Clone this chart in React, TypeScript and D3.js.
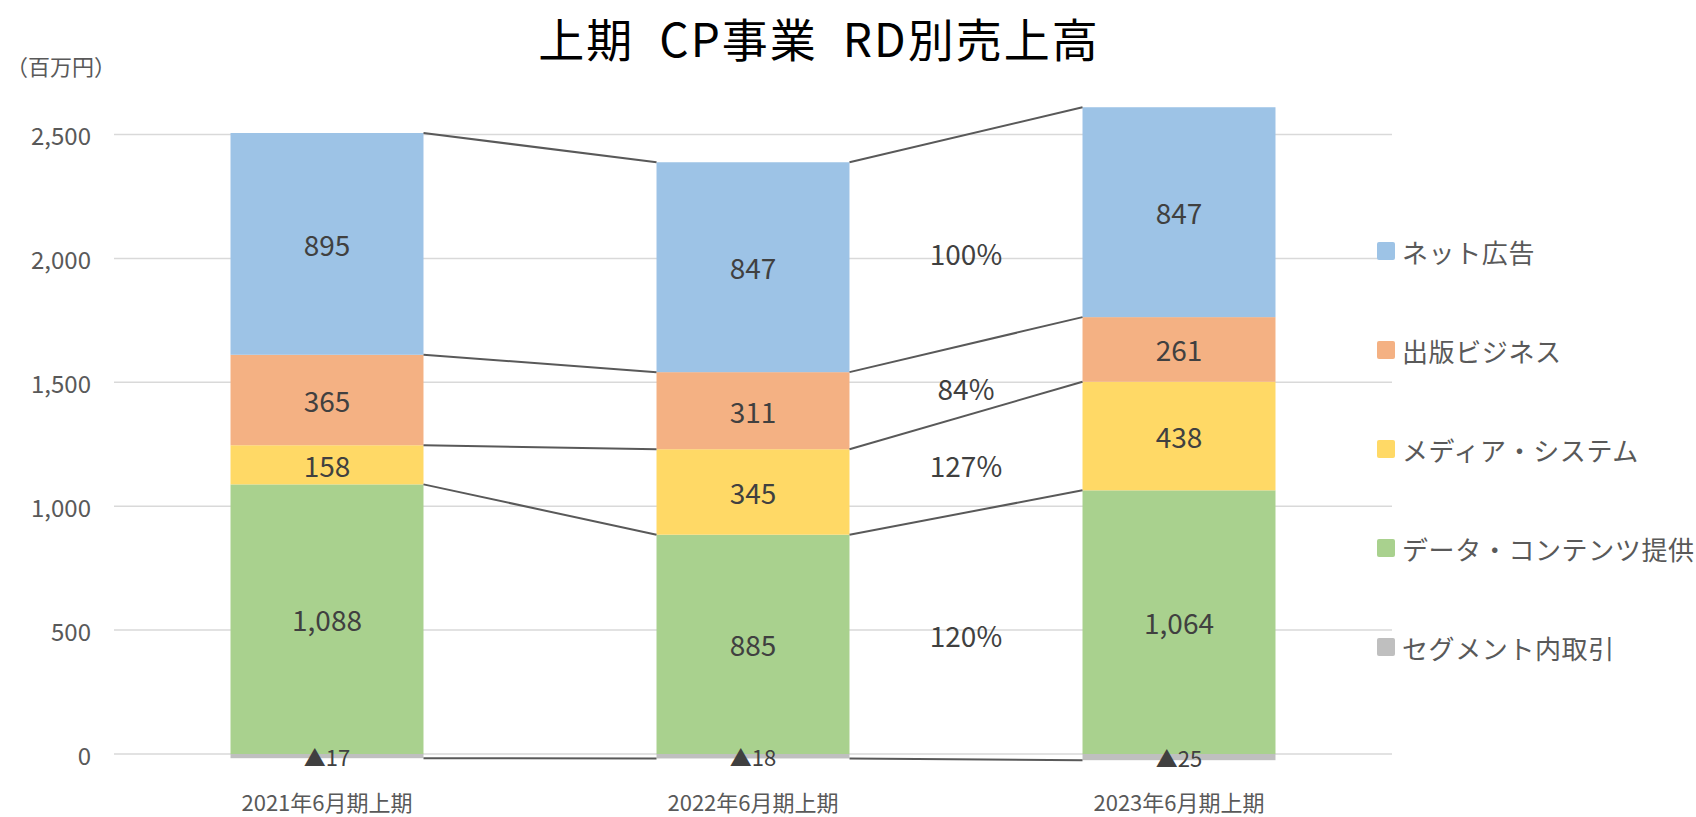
import React from 'react';
import * as d3 from 'd3';

const periods = ['2021年6月期上期', '2022年6月期上期', '2023年6月期上期'];
const seriesKeys = ['segment', 'dataContent', 'media', 'publishing', 'netAd'];
const seriesNames = ['セグメント内取引', 'データ・コンテンツ提供', 'メディア・システム', '出版ビジネス', 'ネット広告'];
const seriesColors = ['#BFBFBF', '#A9D18E', '#FFD966', '#F4B183', '#9DC3E6'];

const netAd = [895, 847, 847];
const publishing = [365, 311, 261];
const media = [158, 345, 438];
const dataContent = [1088, 885, 1064];
const segment = [-17, -18, -25];

const yTicks = [0, 500, 1000, 1500, 2000, 2500];

// 前年比ラベル（2022→2023）
const growthLabels = ['100%', '84%', '127%', '120%'];
const growthAnchors = [2020, 1475, 1168, 481];

const W = 1696;
const H = 817;
const margin = { left: 114, right: 304, top: 134.5, bottom: 63 };

const App = () => {
  const rows = periods.map((p, i) => ({
    period: p,
    segment: segment[i],
    dataContent: dataContent[i],
    media: media[i],
    publishing: publishing[i],
    netAd: netAd[i],
  }));

  const stacked = d3
    .stack()
    .keys(seriesKeys)
    .offset(d3.stackOffsetDiverging)(rows as any);

  const x = d3
    .scaleBand()
    .domain(periods)
    .range([margin.left, W - margin.right])
    .paddingInner(0.547)
    .paddingOuter(0.547 / 2);

  const y = d3.scaleLinear().domain([0, 2500]).range([H - margin.bottom, margin.top]);
  const fmt = d3.format(',');
  const bw = x.bandwidth();

  const font = '"Noto Sans CJK JP", "Noto Sans", sans-serif';

  // 区分線：各系列の上端（マイナス系列は下端）を隣の棒と結ぶ
  const connectors: { x1: number; y1: number; x2: number; y2: number; k: string }[] = [];
  stacked.forEach((s) => {
    for (let i = 0; i < s.length - 1; i++) {
      const neg = s.key === 'segment';
      const a = neg ? s[i][0] : s[i][1];
      const b = neg ? s[i + 1][0] : s[i + 1][1];
      connectors.push({
        x1: x(periods[i])! + bw,
        y1: y(a),
        x2: x(periods[i + 1])!,
        y2: y(b),
        k: s.key + i,
      });
    }
  });

  const gapX = (x(periods[1])! + bw + x(periods[2])!) / 2;
  const legendOrder = [4, 3, 2, 1, 0];

  return (
    <svg
      width={W}
      height={H}
      style={{ position: 'absolute', left: 0, top: 0, background: '#fff' }}
      fontFamily={font}
    >
      <text x={819} y={57} textAnchor="middle" fontSize={46} letterSpacing={2} fill="#000">
        {'上期\u2002CP事業\u2002RD別売上高'}
      </text>
      <text x={6} y={75} fontSize={22} fill="#595959">
        （百万円）
      </text>

      {yTicks.map((t) => (
        <g key={t}>
          <line x1={margin.left} x2={W - margin.right} y1={y(t)} y2={y(t)} stroke="#D9D9D9" strokeWidth={1.5} />
          <text x={91} y={y(t)} textAnchor="end" dominantBaseline="central" fontSize={24} fill="#595959">
            {fmt(t)}
          </text>
        </g>
      ))}

      {stacked.map((s, si) => (
        <g key={s.key} fill={seriesColors[si]}>
          {s.map((d, i) => (
            <rect
              key={i}
              x={x(periods[i])}
              width={bw}
              y={y(Math.max(d[0], d[1]))}
              height={Math.abs(y(d[0]) - y(d[1]))}
            />
          ))}
        </g>
      ))}

      {connectors.map((c) => (
        <line key={c.k} x1={c.x1} y1={c.y1} x2={c.x2} y2={c.y2} stroke="#595959" strokeWidth={2} />
      ))}

      {stacked.map((s) =>
        s.map((d, i) => {
          const v = d[1] - d[0];
          const neg = s.key === 'segment';
          return (
            <text
              key={s.key + i}
              x={x(periods[i])! + bw / 2}
              y={y((d[0] + d[1]) / 2)}
              textAnchor="middle"
              dominantBaseline="central"
              fontSize={neg ? 22 : 28}
              fill="#404040"
            >
              {neg ? '▲' + fmt(v) : fmt(v)}
            </text>
          );
        })
      )}

      {growthLabels.map((g, i) => (
        <text
          key={g + i}
          x={gapX}
          y={y(growthAnchors[i])}
          textAnchor="middle"
          dominantBaseline="central"
          fontSize={28}
          fill="#404040"
        >
          {g}
        </text>
      ))}

      {periods.map((p) => (
        <text
          key={p}
          x={x(p)! + bw / 2}
          y={801}
          textAnchor="middle"
          dominantBaseline="central"
          fontSize={22}
          fill="#595959"
        >
          {p}
        </text>
      ))}

      {legendOrder.map((si, r) => (
        <g key={seriesKeys[si]} transform={`translate(1377,${251 + r * 99})`}>
          <rect x={0} y={-9} width={18} height={18} rx={2} fill={seriesColors[si]} />
          <text x={25} y={0} dominantBaseline="central" fontSize={26} letterSpacing={0.6} fill="#595959">
            {seriesNames[si]}
          </text>
        </g>
      ))}
    </svg>
  );
};

export default App;
